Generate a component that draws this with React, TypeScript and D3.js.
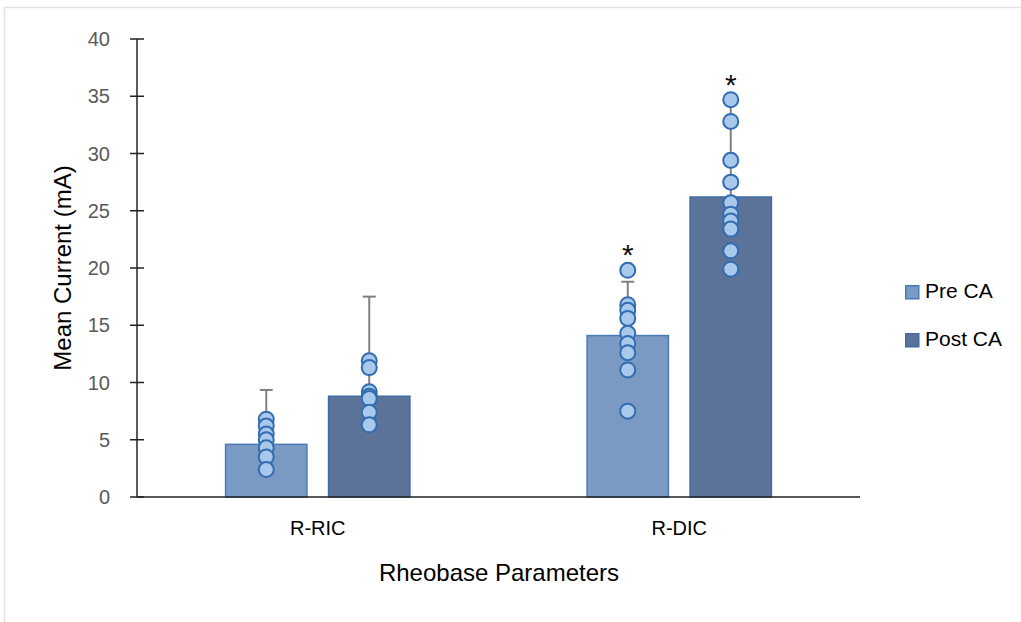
import React, { useEffect, useRef } from "react";
import * as d3 from "d3";

// chart data
const categories = ["R-RIC", "R-DIC"];
const seriesNames = ["Pre CA", "Post CA"];
const preMeans = [4.6, 14.1];
const postMeans = [8.8, 26.2];
const preSD = [4.75, 4.7];
const postSD = [8.7, 8.4];
const preRicPoints = [6.8, 6.2, 5.5, 5.0, 4.3, 3.5, 2.4];
const postRicPoints = [11.9, 11.3, 9.2, 8.8, 8.6, 7.4, 6.3];
const preDicPoints = [19.8, 16.8, 16.3, 15.6, 14.3, 13.4, 12.6, 11.1, 7.5];
const postDicPoints = [34.7, 32.8, 29.4, 27.5, 25.7, 24.7, 24.1, 23.4, 21.5, 19.9];
const significant = [[false, false], [true, true]];
const yTicks = [0, 5, 10, 15, 20, 25, 30, 35, 40];

const barFill = ["#7a9ac4", "#5b7398"];
const barStroke = ["#4a7bb7", "#3f6ca8"];

const App = () => {
	const chartRef = useRef<SVGSVGElement>(null);

	useEffect(() => {
		const width = 1021;
		const height = 622;
		const left = 137;
		const right = 860;
		const top = 39;
		const bottom = 497;
		const font = "'Liberation Sans', Arial, sans-serif";

		const svg = d3.select(chartRef.current);
		svg.selectAll("*").remove();
		svg.attr("width", width).attr("height", height);

		// faint frame of the original figure
		svg.append("path")
			.attr("d", `M4.5,${height} V7.5 H${width}`)
			.attr("fill", "none")
			.attr("stroke", "#e2e2e2")
			.attr("stroke-width", 1.5);

		const y = d3.scaleLinear().domain([0, 40]).range([bottom, top]);
		const x0 = d3.scaleBand().domain(categories).range([left, right])
			.paddingInner(0.49).paddingOuter(0.245);
		const x1 = d3.scaleBand().domain(seriesNames).range([0, x0.bandwidth()])
			.paddingInner(0.21).paddingOuter(0);

		const groups = categories.map((c, i) => ({
			cat: c,
			bars: [
				{ s: 0, mean: preMeans[i], sd: preSD[i], pts: i === 0 ? preRicPoints : preDicPoints, sig: significant[i][0] },
				{ s: 1, mean: postMeans[i], sd: postSD[i], pts: i === 0 ? postRicPoints : postDicPoints, sig: significant[i][1] },
			],
		}));

		// y axis
		const yAxis = svg.append("g");
		yAxis.append("line")
			.attr("x1", left).attr("x2", left)
			.attr("y1", y(40)).attr("y2", y(0))
			.attr("stroke", "#222").attr("stroke-width", 1.5);
		yAxis.selectAll("line.tick")
			.data(yTicks)
			.enter()
			.append("line")
			.attr("class", "tick")
			.attr("x1", left - 7).attr("x2", left + 7)
			.attr("y1", d => y(d)).attr("y2", d => y(d))
			.attr("stroke", "#222").attr("stroke-width", 1.5);
		yAxis.selectAll("text")
			.data(yTicks)
			.enter()
			.append("text")
			.text(d => d)
			.attr("x", 110)
			.attr("y", d => y(d) + 7)
			.attr("text-anchor", "end")
			.attr("fill", "#595959")
			.style("font-family", font)
			.style("font-size", "20px");

		const g = svg.selectAll("g.group")
			.data(groups)
			.enter()
			.append("g")
			.attr("class", "group")
			.attr("transform", d => `translate(${x0(d.cat)},0)`);

		// bars
		g.selectAll("rect")
			.data(d => d.bars)
			.enter()
			.append("rect")
			.attr("x", d => x1(seriesNames[d.s]))
			.attr("y", d => y(d.mean))
			.attr("width", x1.bandwidth())
			.attr("height", d => y(0) - y(d.mean))
			.attr("fill", d => barFill[d.s])
			.attr("stroke", d => barStroke[d.s])
			.attr("stroke-width", 1.5);

		// error bars (upper only)
		const cx = d => x1(seriesNames[d.s]) + x1.bandwidth() / 2;
		g.selectAll("line.err")
			.data(d => d.bars)
			.enter()
			.append("line")
			.attr("class", "err")
			.attr("x1", cx).attr("x2", cx)
			.attr("y1", d => y(d.mean)).attr("y2", d => y(d.mean + d.sd))
			.attr("stroke", "#808080").attr("stroke-width", 2);
		g.selectAll("line.cap")
			.data(d => d.bars)
			.enter()
			.append("line")
			.attr("class", "cap")
			.attr("x1", d => cx(d) - 6.5).attr("x2", d => cx(d) + 6.5)
			.attr("y1", d => y(d.mean + d.sd)).attr("y2", d => y(d.mean + d.sd))
			.attr("stroke", "#808080").attr("stroke-width", 2);

		// individual points
		g.selectAll("g.pts")
			.data(d => d.bars)
			.enter()
			.append("g")
			.attr("class", "pts")
			.selectAll("circle")
			.data(d => d.pts.map(v => ({ v, s: d.s })))
			.enter()
			.append("circle")
			.attr("cx", cx)
			.attr("cy", d => y(d.v))
			.attr("r", 7.5)
			.attr("fill", "#a8c9ec")
			.attr("stroke", "#336cb0")
			.attr("stroke-width", 2);

		// significance marks
		g.selectAll("text.sig")
			.data(d => d.bars.filter(b => b.sig))
			.enter()
			.append("text")
			.attr("class", "sig")
			.text("*")
			.attr("x", cx)
			.attr("y", d => y(Math.max(d.mean + d.sd, d3.max(d.pts))) - 5)
			.attr("text-anchor", "middle")
			.attr("fill", "#111")
			.style("font-family", font)
			.style("font-size", "30px");

		// x axis
		svg.append("line")
			.attr("x1", left).attr("x2", right)
			.attr("y1", y(0)).attr("y2", y(0))
			.attr("stroke", "#222").attr("stroke-width", 1.5);
		svg.selectAll("text.cat")
			.data(categories)
			.enter()
			.append("text")
			.attr("class", "cat")
			.text(d => d)
			.attr("x", d => x0(d) + x0.bandwidth() / 2)
			.attr("y", 535)
			.attr("text-anchor", "middle")
			.attr("fill", "#000")
			.style("font-family", font)
			.style("font-size", "20px");

		// axis titles
		svg.append("text")
			.text("Rheobase Parameters")
			.attr("x", 499)
			.attr("y", 581)
			.attr("text-anchor", "middle")
			.attr("fill", "#000")
			.style("font-family", font)
			.style("font-size", "24px");
		svg.append("text")
			.text("Mean Current (mA)")
			.attr("transform", `translate(71,${(top + bottom) / 2}) rotate(-90)`)
			.attr("text-anchor", "middle")
			.attr("fill", "#000")
			.style("font-family", font)
			.style("font-size", "24px");

		// legend
		const legend = svg.selectAll("g.legend")
			.data(seriesNames)
			.enter()
			.append("g")
			.attr("class", "legend")
			.attr("transform", (d, i) => `translate(905,${285 + i * 48})`);
		legend.append("rect")
			.attr("x", 0.75).attr("y", 0.75)
			.attr("width", 13).attr("height", 13)
			.attr("fill", (d, i) => barFill[i])
			.attr("stroke", (d, i) => barStroke[i])
			.attr("stroke-width", 1.5);
		legend.append("text")
			.text(d => d)
			.attr("x", 20)
			.attr("y", 13)
			.attr("fill", "#000")
			.style("font-family", font)
			.style("font-size", "21px");
	}, []);

	return (
		<svg ref={chartRef} style={{ position: "absolute", left: 0, top: 0 }}></svg>
	);
};

export default App;
